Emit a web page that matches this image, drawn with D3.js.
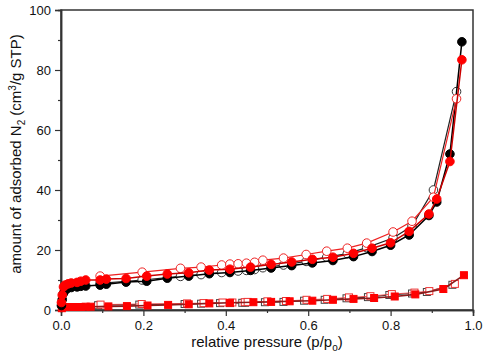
<!DOCTYPE html>
<html>
<head>
<meta charset="utf-8">
<script src="https://cdn.jsdelivr.net/npm/d3@7"></script>
<style>
  body { margin: 0; background: #fff; }
  text { font-family: "Liberation Sans", Arial, sans-serif; fill: #111; }
</style>
</head>
<body>
<div id="chart"></div>
<script>
// adsorption branch, sample A (black) and sample B (red), same pressures
const p_ads = [0.001,0.003,0.006,0.01,0.017,0.025,0.039,0.048,0.06,0.095,0.11,0.158,0.208,0.258,0.31,0.36,0.41,0.46,0.51,0.56,0.61,0.66,0.71,0.755,0.80,0.845,0.893,0.912,0.944,0.973];
const black_ads = [1.5,3.5,5.6,6.5,7.3,7.5,7.7,7.9,8.0,8.3,8.6,9.3,9.6,10.6,11.3,12.1,12.5,13.2,14.0,14.8,15.7,16.5,17.8,19.5,21.6,25.0,31.5,36.0,52.0,89.4];
const red_ads = [2.5,5.0,7.7,8.3,8.7,9.0,9.2,9.6,10.0,10.0,10.3,10.5,11.3,12.0,12.4,13.3,13.6,14.3,15.2,16.0,16.9,17.6,18.9,20.6,22.4,26.2,32.0,37.0,49.5,83.4];
// desorption branch (open circles)
const p_des = [0.095,0.197,0.29,0.34,0.39,0.41,0.43,0.45,0.47,0.49,0.54,0.595,0.645,0.695,0.742,0.806,0.852,0.904,0.96];
const black_des = [8.9,10.0,11.2,11.8,12.5,12.8,13.0,13.2,13.5,14.1,15.0,16.2,17.6,18.8,20.8,24.0,28.0,40.0,72.8];
const red_des = [11.3,12.6,13.9,14.3,15.0,15.3,15.4,15.6,15.9,16.6,17.3,18.5,19.6,20.6,22.3,26.0,29.6,37.6,70.4];
// third sample (squares)
const p_sq_ads = [0.002,0.01,0.022,0.035,0.048,0.06,0.072,0.115,0.16,0.21,0.26,0.31,0.36,0.41,0.467,0.51,0.555,0.61,0.66,0.71,0.76,0.81,0.86,0.928,0.978];
const sq_ads = [0.6,1.0,1.0,1.0,1.0,1.1,1.1,1.2,1.3,1.5,1.7,1.9,2.2,2.4,2.6,2.7,2.9,3.1,3.4,3.7,4.0,4.5,5.2,7.0,11.6];
const p_sq_des = [0.09,0.19,0.30,0.34,0.386,0.41,0.44,0.447,0.495,0.54,0.59,0.64,0.693,0.745,0.797,0.852,0.888,0.95];
const sq_des_black = [1.6,1.8,2.0,2.1,2.3,2.3,2.4,2.4,2.6,2.7,3.1,3.4,3.9,4.3,5.0,5.5,6.0,8.4];
const sq_des_red = [1.8,2.0,2.2,2.3,2.5,2.5,2.6,2.7,2.9,3.0,3.4,3.7,4.2,4.6,5.3,5.8,6.3,8.7];

const x_ticks = [0, 0.2, 0.4, 0.6, 0.8, 1.0];
const y_ticks = [0, 20, 40, 60, 80, 100];

const width = 484, height = 364;
const margin = {top: 10, right: 11, bottom: 54, left: 61};

const svg = d3.select("#chart").append("svg")
  .attr("width", width).attr("height", height);

const x = d3.scaleLinear().domain([0, 1]).range([margin.left, width - margin.right]);
const y = d3.scaleLinear().domain([0, 100]).range([height - margin.bottom, margin.top]);

const zip = (px, py) => px.map((p, i) => ({p: p, v: py[i]}));

// frame
svg.append("rect")
  .attr("x", x(0)).attr("y", y(100))
  .attr("width", x(1) - x(0)).attr("height", y(0) - y(100))
  .attr("fill", "none").attr("stroke", "#333").attr("stroke-width", 1.5);

// axes
svg.append("g")
  .attr("transform", "translate(0," + y(0) + ")")
  .call(d3.axisBottom(x).tickValues(x_ticks).tickFormat(d3.format(".1f")).tickSize(6).tickPadding(5));
svg.append("g")
  .attr("transform", "translate(" + x(0) + ",0)")
  .call(d3.axisLeft(y).tickValues(y_ticks).tickSize(6).tickPadding(4));
// minor ticks
svg.append("g").attr("transform", "translate(0," + y(0) + ")")
  .call(d3.axisBottom(x).tickValues([0.1,0.3,0.5,0.7,0.9]).tickFormat("").tickSize(3));
svg.append("g").attr("transform", "translate(" + x(0) + ",0)")
  .call(d3.axisLeft(y).tickValues([10,30,50,70,90]).tickFormat("").tickSize(3));

svg.selectAll(".domain").attr("stroke", "#333").attr("stroke-width", 1.5);
svg.selectAll(".tick line").attr("stroke", "#333").attr("stroke-width", 1.2);
svg.selectAll(".tick text").attr("font-size", 13).attr("fill", "#111")
  .attr("font-family", "Liberation Sans, Arial, sans-serif");

// axis titles
const xl = svg.append("text")
  .attr("x", 267).attr("y", 347)
  .attr("text-anchor", "middle").attr("font-size", 15);
xl.append("tspan").text("relative pressure (p/p");
xl.append("tspan").attr("font-size", 10).attr("dy", 4).text("o");
xl.append("tspan").attr("dy", -4).text(")");

const yl = svg.append("text")
  .attr("transform", "translate(21," + 154 + ") rotate(-90)")
  .attr("text-anchor", "middle").attr("font-size", 15);
yl.append("tspan").text("amount of adsorbed N");
yl.append("tspan").attr("font-size", 10).attr("dy", 4).text("2");
yl.append("tspan").attr("dy", -4).text(" (cm");
yl.append("tspan").attr("font-size", 10).attr("dy", -5).text("3");
yl.append("tspan").attr("dy", 5).text("/g STP)");

const line = d3.line().x(d => x(d.p)).y(d => y(d.v));
const plot = svg.append("g");

function drawSeries(data, opts){
  plot.append("path").datum(data)
    .attr("d", line).attr("fill", "none")
    .attr("stroke", opts.line).attr("stroke-width", opts.lw || 1.2);
  if(opts.shape == "circle"){
    plot.append("g").selectAll("circle").data(data).enter().append("circle")
      .attr("cx", d => x(d.p)).attr("cy", d => y(d.v)).attr("r", 4.3)
      .attr("fill", opts.fill).attr("stroke", opts.stroke).attr("stroke-width", 1);
  } else {
    plot.append("g").selectAll("rect").data(data).enter().append("rect")
      .attr("x", d => x(d.p) - 3.5).attr("y", d => y(d.v) - 3.5)
      .attr("width", 7).attr("height", 7)
      .attr("fill", opts.fill).attr("stroke", opts.stroke).attr("stroke-width", 1);
  }
}

drawSeries(zip(p_sq_des, sq_des_black), {shape: "square", fill: "#fff", stroke: "#444", line: "#333"});
drawSeries(zip(p_sq_des.map(p => p + 0.006), sq_des_red), {shape: "square", fill: "#fff", stroke: "#e33", line: "#e33", lw: 0.8});
drawSeries(zip(p_sq_ads, sq_ads), {shape: "square", fill: "#f00", stroke: "#f00", line: "#8b1a1a", lw: 1.6});
drawSeries(zip(p_des, black_des), {shape: "circle", fill: "#fff", stroke: "#333", line: "#222"});
drawSeries(zip(p_ads, black_ads), {shape: "circle", fill: "#000", stroke: "#000", line: "#000", lw: 1.5});
drawSeries(zip(p_des, red_des), {shape: "circle", fill: "#fff", stroke: "#e22", line: "#e22"});
drawSeries(zip(p_ads, red_ads), {shape: "circle", fill: "#f00", stroke: "#f00", line: "#c00", lw: 1.5});
</script>
</body>
</html>
